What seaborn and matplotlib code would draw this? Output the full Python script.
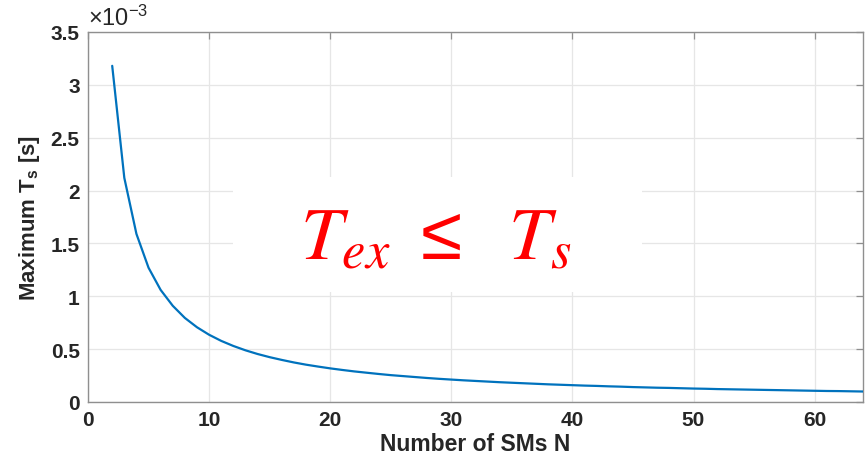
import matplotlib
matplotlib.use("Agg")
import matplotlib.pyplot as plt
import seaborn as sns
import pandas as pd
from matplotlib.patches import Rectangle

# number of SMs and maximum sampling period (units of 1e-3 s)
num_sms = list(range(2, 65))
max_ts = [3.18, 2.12, 1.59, 1.27, 1.06, 0.91, 0.795, 0.707, 0.636, 0.578,
          0.53, 0.489, 0.454, 0.424, 0.398, 0.374, 0.353, 0.335, 0.318, 0.303,
          0.289, 0.277, 0.265, 0.254, 0.245, 0.236, 0.227, 0.219, 0.212, 0.205,
          0.199, 0.193, 0.187, 0.182, 0.177, 0.172, 0.167, 0.163, 0.159, 0.155,
          0.152, 0.148, 0.145, 0.141, 0.138, 0.135, 0.133, 0.130, 0.127, 0.125,
          0.122, 0.120, 0.118, 0.116, 0.114, 0.112, 0.110, 0.108, 0.106, 0.104,
          0.103, 0.101, 0.099]
x_ticks = [0, 10, 20, 30, 40, 50, 60]
y_ticks = [0, 0.5, 1, 1.5, 2, 2.5, 3, 3.5]
y_tick_labels = ["0", "0.5", "1", "1.5", "2", "2.5", "3", "3.5"]

sns.set_theme(style="whitegrid")
plt.rcParams['font.family'] = ['Liberation Sans', 'DejaVu Sans']
plt.rcParams['mathtext.fontset'] = 'stix'
plt.rcParams['mathtext.default'] = 'regular'

df = pd.DataFrame({'N': num_sms, 'Ts': max_ts})

fig = plt.figure(figsize=(8.66, 4.64), dpi=100)
ax = fig.add_axes([0.1016, 0.1315, 0.895, 0.7974])

sns.lineplot(data=df, x='N', y='Ts', ax=ax, color='#0072BD', linewidth=1.6, zorder=3)

ax.set_xlim(0, 64)
ax.set_ylim(0, 3.5)
ax.set_xticks(x_ticks)
ax.set_yticks(y_ticks)
ax.set_yticklabels(y_tick_labels)

ax.grid(True, color='#e6e6e6', linewidth=0.9)
ax.set_facecolor('white')
for s in ax.spines.values():
    s.set_visible(True)
    s.set_color('#8f8f8f')
    s.set_linewidth(1.0)
ax.tick_params(direction='in', length=5, width=0.9, color='#8f8f8f',
               top=True, right=True, labelsize=15, labelcolor='#262626', pad=6)
for lab in ax.get_xticklabels() + ax.get_yticklabels():
    lab.set_fontweight('bold')

ax.set_xlabel('Number of SMs N', fontsize=16.5, fontweight='bold', color='#262626', labelpad=2)
ax.set_ylabel('Maximum T$_s$ [s]', fontsize=16, fontweight='bold', color='#262626', labelpad=6)

# exponent label like MATLAB
ax.text(0.0, 1.006, r'$\times$10$^{-3}$', transform=ax.transAxes, fontsize=17,
        color='#262626', ha='left', va='bottom')

# white box behind the annotation hides the grid
ax.add_patch(Rectangle((0.187, 0.297), 0.528, 0.311, transform=ax.transAxes,
                       facecolor='white', edgecolor='none', zorder=2))
ax.text(0.449, 0.44, r'$\mathit{T_{ex}}\ \leq\ \ \mathit{T_s}$', transform=ax.transAxes,
        fontsize=54, fontweight='normal', color='red', ha='center', va='center', zorder=4)

fig.savefig('out.png', dpi=100)
